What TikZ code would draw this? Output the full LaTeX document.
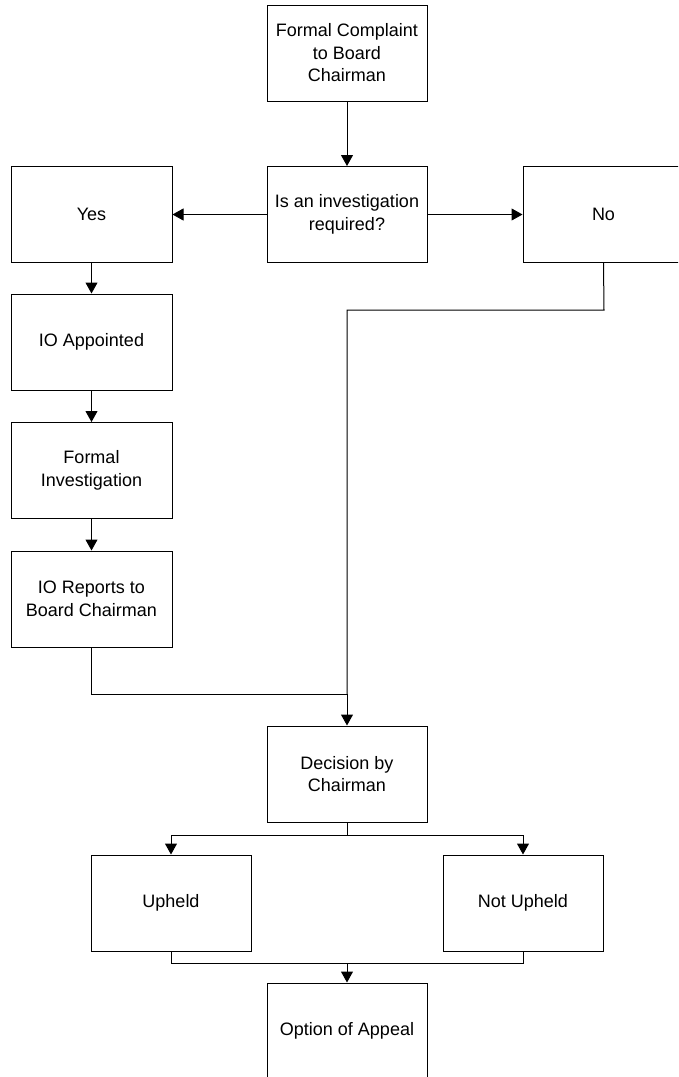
\documentclass[tikz,border=0pt]{standalone}
\usepackage{fontspec}
\setmainfont{Liberation Sans}
\usetikzlibrary{arrows.meta}
\begin{document}
\begin{tikzpicture}[x=1pt,y=-1pt,
  box/.style={draw=black,line width=1pt,minimum width=161pt,minimum height=96pt,
    align=center,inner sep=0pt,font=\fontsize{18}{22.5}\selectfont,text=black},
  sbox/.style={box,minimum width=160pt},
  conn/.style={draw=black,line width=1pt},
  arr/.style={conn,-{Triangle[length=11pt,width=12pt]}}]
\useasboundingbox (0,0) rectangle (678,1077);
\clip (0,0) rectangle (678,1077);
\node[sbox] (fc) at (347,53) {Formal Complaint\\to Board\\Chairman};
\node[sbox] (inv) at (347,214.5) {Is an investigation\\required?};
\node[box] (yes) at (91.5,214.5) {Yes};
\node[box] (no) at (603.5,214.5) {No};
\node[box] (ioa) at (91.5,342) {IO Appointed};
\node[box] (fi) at (91.5,470.5) {Formal\\Investigation};
\node[box] (ior) at (91.5,599) {IO Reports to\\Board Chairman};
\node[sbox] (dec) at (347,774) {Decision by\\Chairman};
\node[sbox] (up) at (171,903) {Upheld};
\node[sbox] (nup) at (523,903) {Not Upheld};
\node[sbox] (opt) at (347,1031) {Option of Appeal};
\coordinate (nturn) at (604,310);
\coordinate (join) at (347,694);
\coordinate (split) at (347,835);
\coordinate (merge) at (347,963);
\draw[arr] (fc) -- (inv);
\draw[arr] (inv.west) -- (yes.east);
\draw[arr] (inv.east) -- (no.west);
\draw[arr] (yes) -- (ioa);
\draw[arr] (ioa) -- (fi);
\draw[arr] (fi) -- (ior);
\draw[conn] (no.south) -- (nturn) -| (join);
\draw[arr] (join) -- (dec.north);
\draw[conn] (ior.south) |- (join);
\draw[conn] (dec.south) -- (split);
\draw[arr] (split) -| (up.north);
\draw[arr] (split) -| (nup.north);
\draw[conn] (up.south) |- (merge) -| (nup.south);
\draw[arr] (merge) -- (opt.north);
\end{tikzpicture}
\end{document}
